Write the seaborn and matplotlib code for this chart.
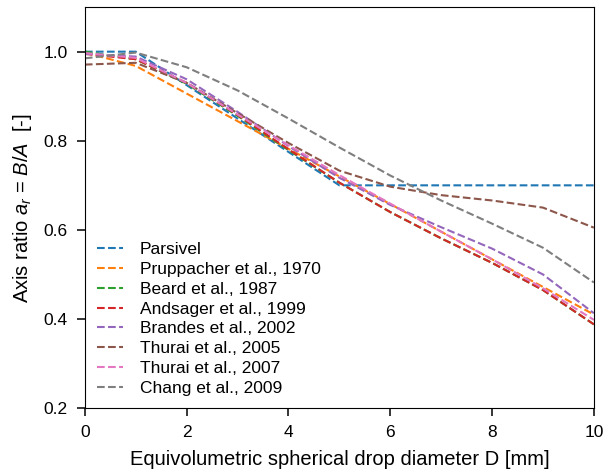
import matplotlib
matplotlib.use("Agg")
import matplotlib.pyplot as plt
import numpy as np
import pandas as pd
import seaborn as sns

sns.set_style("ticks", {'axes.edgecolor': 'black', 'xtick.color': 'black',
                        'ytick.color': 'black', 'text.color': 'black',
                        'axes.labelcolor': 'black'})
plt.rcParams['font.family'] = ['Liberation Sans', 'DejaVu Sans']
plt.rcParams['mathtext.fontset'] = 'custom'
plt.rcParams['mathtext.it'] = 'Liberation Sans:italic'
plt.rcParams['mathtext.rm'] = 'Liberation Sans'

# drop diameters [mm]
diam = [0, 1, 2, 3, 4, 5, 6, 7, 8, 9, 10]

models = ['Parsivel', 'Pruppacher et al., 1970', 'Beard et al., 1987',
          'Andsager et al., 1999', 'Brandes et al., 2002', 'Thurai et al., 2005',
          'Thurai et al., 2007', 'Chang et al., 2009']

parsivel = [1.0, 1.0, 0.925, 0.85, 0.775, 0.70, 0.70, 0.70, 0.70, 0.70, 0.70]
pruppacher = [0.998, 0.968, 0.906, 0.844, 0.782, 0.72, 0.658, 0.596, 0.534, 0.472, 0.41]
beard = [1.0, 0.983, 0.928, 0.856, 0.779, 0.706, 0.640, 0.581, 0.526, 0.465, 0.388]
andsager = [0.995, 0.983, 0.930, 0.858, 0.781, 0.706, 0.640, 0.581, 0.526, 0.465, 0.388]
brandes = [0.995, 0.989, 0.938, 0.865, 0.788, 0.717, 0.656, 0.606, 0.558, 0.500, 0.413]
thurai05 = [0.971, 0.975, 0.930, 0.862, 0.795, 0.733, 0.697, 0.678, 0.666, 0.650, 0.605]
thurai07 = [0.997, 0.986, 0.930, 0.859, 0.790, 0.723, 0.659, 0.596, 0.534, 0.469, 0.398]
chang = [0.985, 0.998, 0.965, 0.913, 0.850, 0.785, 0.722, 0.666, 0.614, 0.560, 0.482]

series = [parsivel, pruppacher, beard, andsager, brandes, thurai05, thurai07, chang]

df = pd.DataFrame({
    'D': diam * len(models),
    'ar': [v for s in series for v in s],
    'model': [m for m in models for _ in diam],
})

fig, ax = plt.subplots(figsize=(6.06, 4.74), dpi=100)
fig.subplots_adjust(left=0.140, right=0.980, top=0.985, bottom=0.139)

sns.lineplot(data=df, x='D', y='ar', hue='model', style='model',
             hue_order=models, style_order=models,
             palette=sns.color_palette('tab10', len(models)),
             dashes={m: (3.7, 1.6) for m in models}, linewidth=1.5, ax=ax)

ax.set_xlim(0, 10)
ax.set_ylim(0.2, 1.1)
ax.set_yticks([0.2, 0.4, 0.6, 0.8, 1.0])
ax.tick_params(labelsize=12.5, length=5.5, width=1.1, pad=7)
ax.set_xlabel('Equivolumetric spherical drop diameter D [mm]', fontsize=14.5, labelpad=7)
ax.set_ylabel('Axis ratio $a_r$ = $B/A$  [-]', fontsize=14.5, labelpad=7)

sns.move_legend(ax, 'lower left', frameon=False, title=None, fontsize=12.5,
                labelspacing=0.27, handlelength=1.5, handletextpad=0.95,
                borderaxespad=0.3)

fig.savefig('out.png', dpi=100)
